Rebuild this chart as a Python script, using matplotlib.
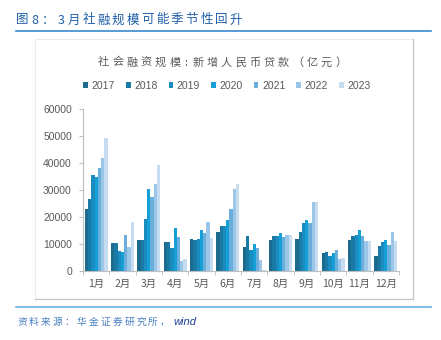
import numpy as np
import matplotlib.pyplot as plt
from matplotlib.patches import Patch
from matplotlib.lines import Line2D

plt.rcParams['font.family'] = ['Liberation Sans', 'Noto Sans CJK SC']
CJK = ['Noto Sans CJK SC', 'DejaVu Sans']

months = ['1月', '2月', '3月', '4月', '5月', '6月', '7月', '8月', '9月', '10月', '11月', '12月']
years = ['2017', '2018', '2019', '2020', '2021', '2022', '2023']

# 社会融资规模:新增人民币贷款 (亿元)
y2017 = [23000, 10200, 11500, 10700, 11700, 14400, 9000, 11400, 11700, 6500, 11300, 5600]
y2018 = [26600, 10200, 11500, 10900, 11400, 16700, 12800, 13100, 14300, 6900, 12800, 9200]
y2019 = [35700, 7500, 19400, 8500, 11800, 16700, 7900, 12800, 17700, 5400, 13400, 10700]
y2020 = [34900, 7000, 30200, 16000, 15200, 18900, 10100, 14100, 19000, 6500, 15100, 11300]
y2021 = [38100, 13300, 27400, 12600, 14000, 23000, 8400, 12600, 17700, 7600, 13000, 9800]
y2022 = [42000, 8900, 32200, 3700, 18000, 30400, 4100, 13300, 25400, 4400, 11200, 14300]
y2023 = [49200, 18000, 39400, 4300, 12200, 32200, 400, 13300, 25400, 4700, 11200, 11000]
series = [y2017, y2018, y2019, y2020, y2021, y2022, y2023]

colors = ['#1c6a8c', '#1a7aa6', '#1a8cc0', '#14a0d6', '#6aaedb', '#9cc6e7', '#c6dcf0']

W, H = 441, 340
fig = plt.figure(figsize=(W / 100, H / 100), dpi=100)


def spaced(x0, y, s, pitch, narrow='', **kw):
    # place characters one by one with a fixed pitch (pixel units), like the source
    x = x0
    prev = None
    for ch in s:
        w = 0.6 if ch in narrow else 1.0
        if prev is not None:
            x += (prev + w) / 2 * pitch
        fig.text(x / W, 1 - y / H, ch, ha='center', va='center', **kw)
        prev = w


# header
spaced(22, 20, '图8：3月', 13, fontsize=9, color='#1f5fa8', family=CJK)
spaced(88.5, 20, '社融规模可能季节性回升', 14.75, fontsize=9, color='#1f5fa8', family=CJK)
fig.add_artist(Line2D([16 / W, 431 / W], [1 - 31 / H] * 2, color='#3a8ad0', lw=1.2))
fig.add_artist(Line2D([16 / W, 431 / W], [1 - 307 / H] * 2, color='#6aaee0', lw=1.2))
spaced(22, 322, '资料来源：华金证券研究所，', 11.9, fontsize=7, color='#4a7fc0', family=CJK)
fig.text(173 / W, 1 - 322 / H, 'wind', fontsize=8, color='#1f3f9a',
         va='center', ha='left', style='italic', family='Liberation Sans')

# chart frame
fig.add_artist(Line2D([35 / W, 413 / W], [1 - 39 / H] * 2, color='#ececec', lw=0.8))
fig.add_artist(Line2D([35 / W, 35 / W], [1 - 39 / H, 1 - 299 / H], color='#ececec', lw=0.8))
fig.add_artist(Line2D([413 / W, 413 / W], [1 - 39 / H, 1 - 299 / H], color='#c4c4c4', lw=0.9))
fig.add_artist(Line2D([35 / W, 413 / W], [1 - 299 / H] * 2, color='#c4c4c4', lw=0.9))

spaced(103.3, 62.5, '社会融资规模:新增人民币贷款（亿元）', 14.3, narrow=':',
       fontsize=8, color='#595959', family=CJK)

ax = fig.add_axes([83 / W, 1 - 271 / H, 316 / W, 162 / H])

x = np.arange(len(months))
w = 0.88 / len(years)
for i, (vals, yr) in enumerate(zip(series, years)):
    ax.bar(x - 0.44 + w * (i + 0.5), vals, width=w, color=colors[i], label=yr, linewidth=0)

ax.set_xlim(-0.5, len(months) - 0.5)
ax.set_ylim(0, 60000)
ax.set_yticks(np.arange(0, 60001, 10000))
ax.set_xticks(x)
ax.set_xticklabels(months, family=CJK)
ax.set_xticks(np.arange(-0.5, len(months), 1), minor=True)
ax.tick_params(axis='x', which='major', length=0, pad=6, labelsize=7.5, labelcolor='#595959')
ax.tick_params(axis='x', which='minor', length=3, color='#bfbfbf', direction='out')
ax.tick_params(axis='y', length=3, color='#bfbfbf', labelsize=7.5, labelcolor='#595959', pad=5)
for s in ['top', 'right']:
    ax.spines[s].set_visible(False)
for s in ['left', 'bottom']:
    ax.spines[s].set_color('#bfbfbf')
    ax.spines[s].set_linewidth(0.8)

handles = [Patch(facecolor=c, label=y) for c, y in zip(colors, years)]
fig.legend(handles=handles, loc='center', bbox_to_anchor=(227 / W, 1 - 86 / H), ncol=7,
           frameon=False, fontsize=7.5, handlelength=0.45, handleheight=0.45, handletextpad=0.35,
           columnspacing=1.05, labelcolor='#595959', borderpad=0)

fig.savefig('out.png', dpi=100)
